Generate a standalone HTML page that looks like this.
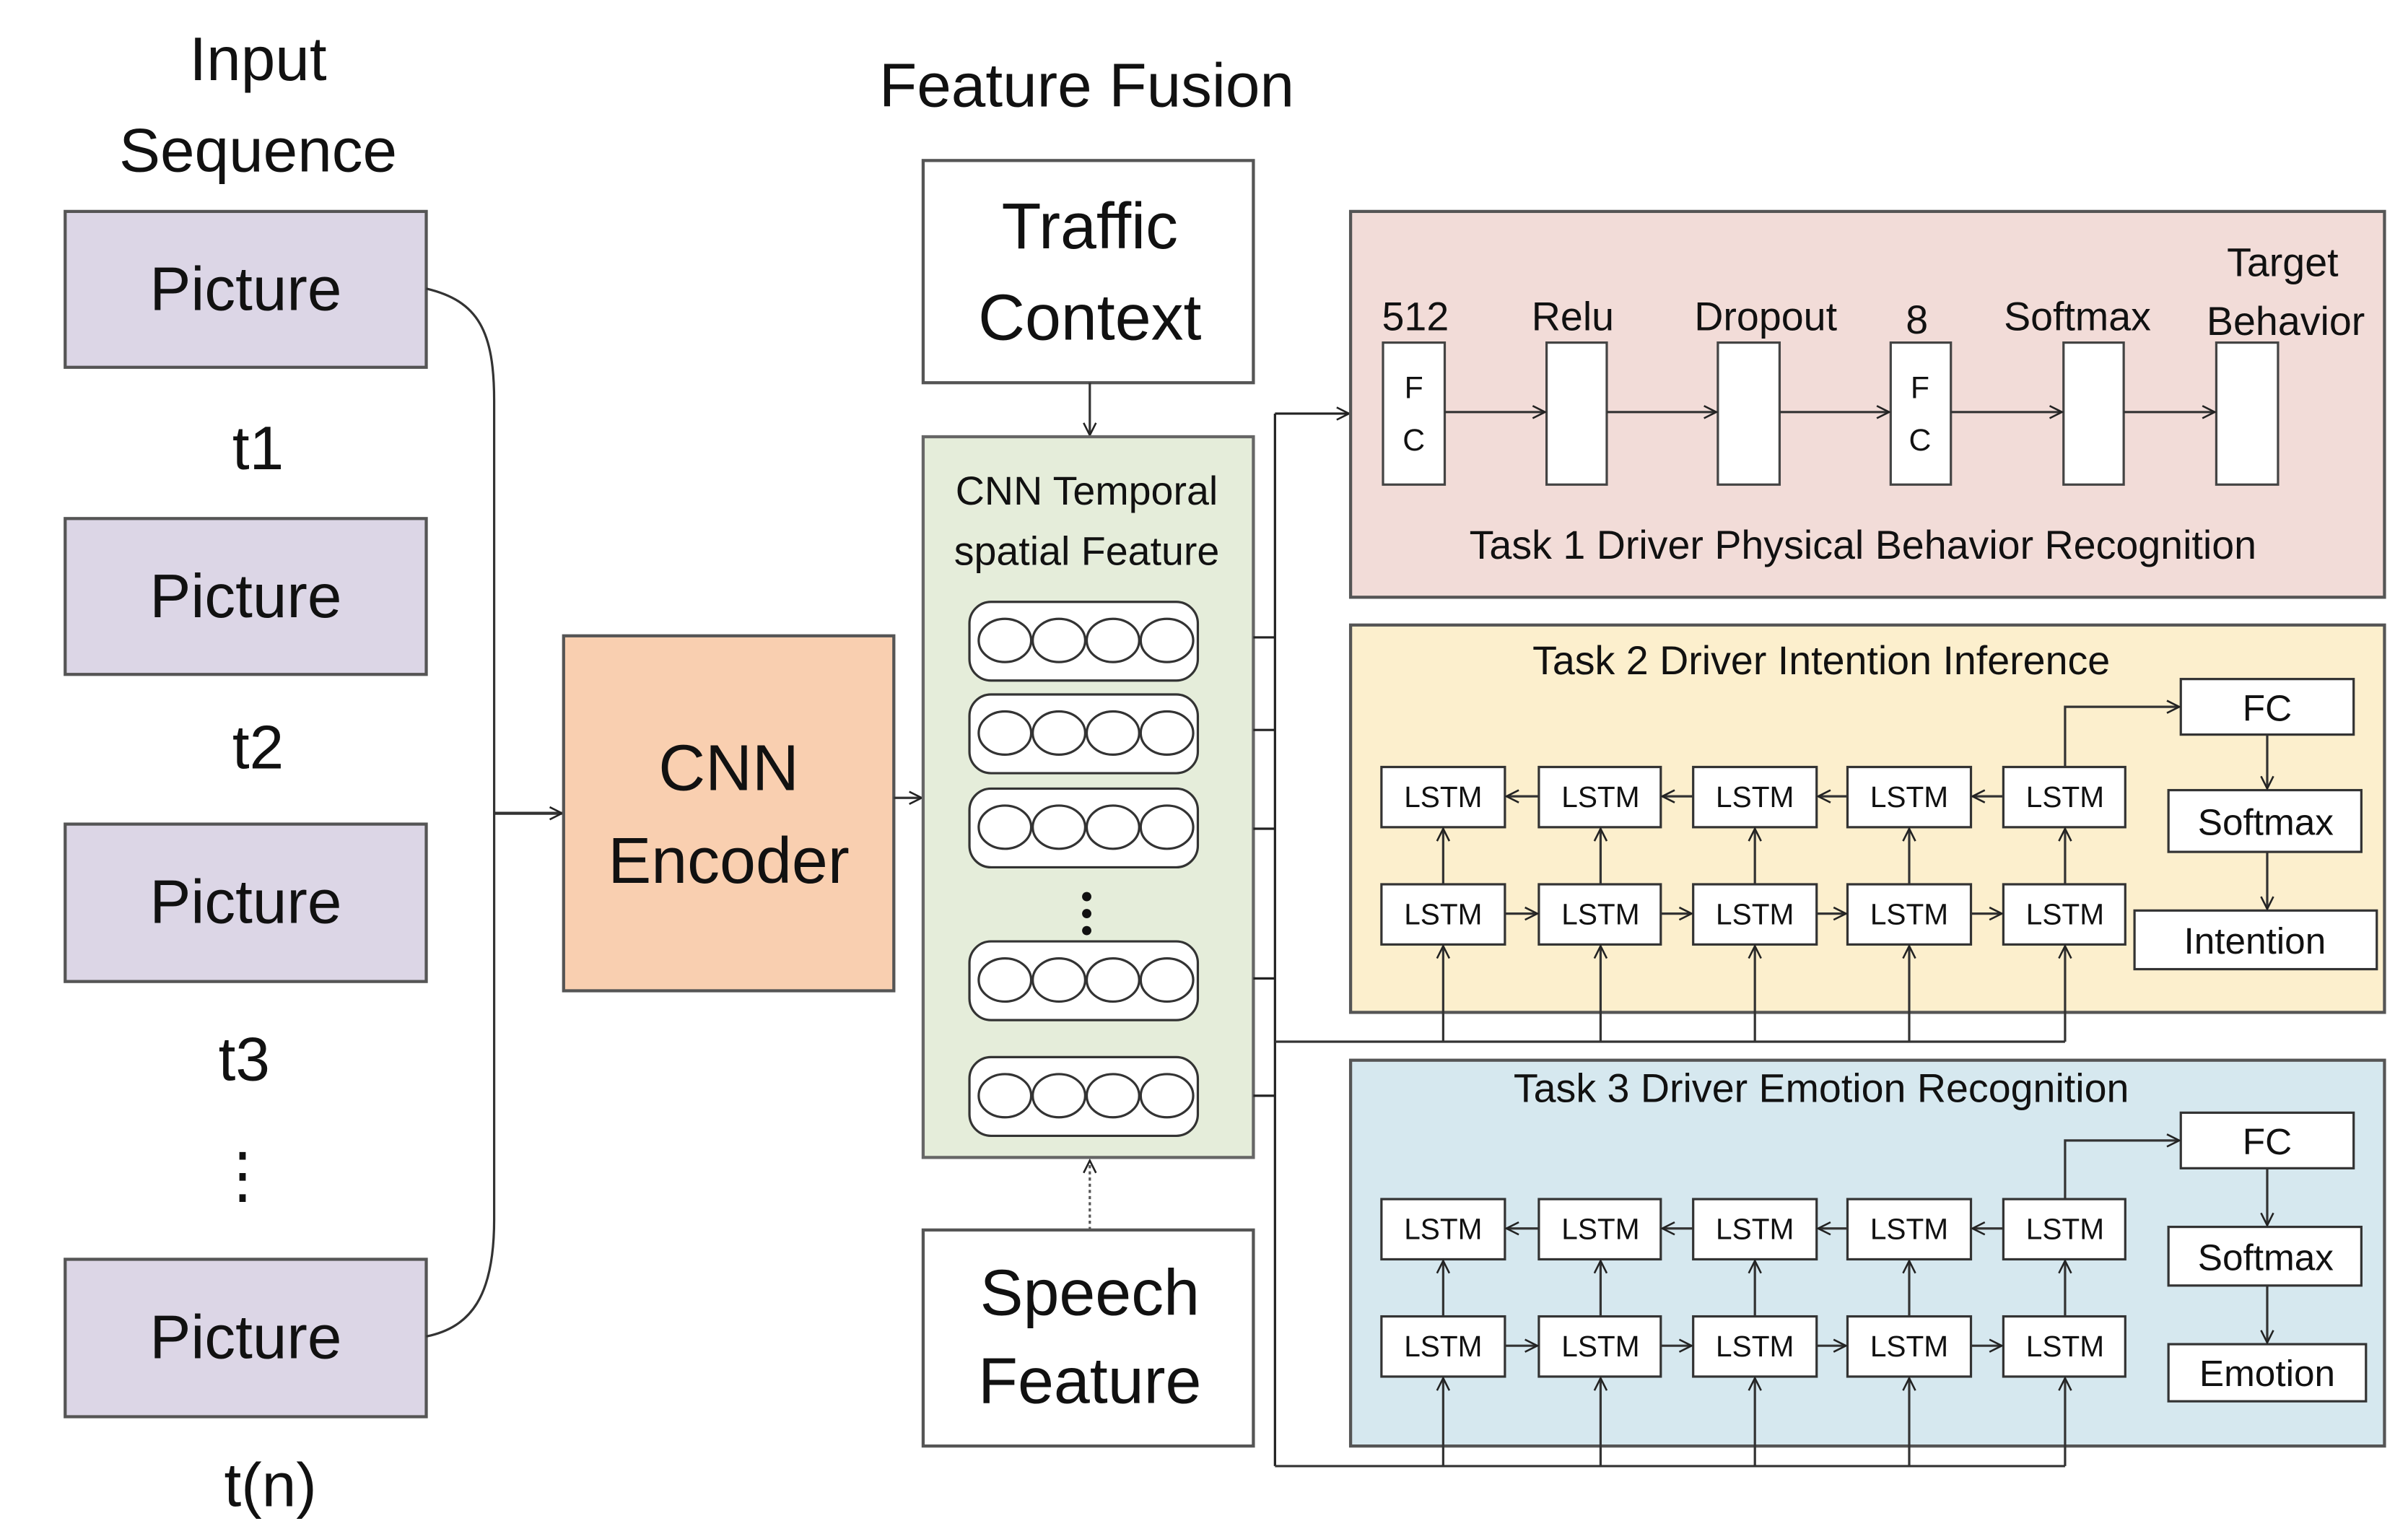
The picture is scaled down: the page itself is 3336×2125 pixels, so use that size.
<!DOCTYPE html>
<html><head><meta charset="utf-8"><style>html,body{margin:0;padding:0;background:#fff}svg{display:block}text{font-family:"Liberation Sans","DejaVu Sans",sans-serif;fill:#111}</style></head><body>
<svg width="3336" height="2125" viewBox="0 0 1560 994" xmlns="http://www.w3.org/2000/svg">
<defs><marker id="a" markerWidth="10" markerHeight="10" refX="9" refY="5" orient="auto" markerUnits="userSpaceOnUse"><path d="M1,1 L9,5 L1,9" fill="none" stroke="#222" stroke-width="1.2"/></marker></defs>
<rect width="1560" height="994" fill="#fff"/>
<g font-size="40" text-anchor="middle">
<text x="167" y="52">Input</text><text x="167" y="111">Sequence</text>
<text x="704" y="69">Feature Fusion</text>
</g>
<g fill="#dcd6e6" stroke="#555" stroke-width="2">
<rect x="42" y="137" width="234" height="101"/><rect x="42" y="336" width="234" height="101"/><rect x="42" y="534" width="234" height="102"/><rect x="42" y="816" width="234" height="102"/>
</g>
<g font-size="40" text-anchor="middle">
<text x="159" y="201">Picture</text><text x="159" y="400">Picture</text><text x="159" y="598">Picture</text><text x="159" y="880">Picture</text>
<text x="167" y="304">t1</text><text x="167" y="498">t2</text><text x="158" y="700">t3</text><text x="157" y="775">⋮</text><text x="175" y="976">t(n)</text>
</g>
<path d="M276,187 C310,195 320,215 320,260 L320,790 C320,840 305,860 276,866" fill="none" stroke="#333" stroke-width="1.5"/>
<line x1="320" y1="527" x2="364" y2="527" stroke="#333" stroke-width="2" marker-end="url(#a)"/>
<rect x="365" y="412" width="214" height="230" fill="#f9cfb0" stroke="#555" stroke-width="2"/>
<g font-size="42" text-anchor="middle"><text x="472" y="512">CNN</text><text x="472" y="572">Encoder</text></g>
<line x1="579" y1="517" x2="597" y2="517" stroke="#333" stroke-width="1.5" marker-end="url(#a)"/>
<rect x="598" y="104" width="214" height="144" fill="#fff" stroke="#555" stroke-width="2"/>
<g font-size="42" text-anchor="middle"><text x="706" y="161">Traffic</text><text x="706" y="220">Context</text></g>
<line x1="706" y1="248" x2="706" y2="282" stroke="#333" stroke-width="1.5" marker-end="url(#a)"/>
<rect x="598" y="283" width="214" height="467" fill="#e5edda" stroke="#666" stroke-width="2"/>
<g font-size="26" text-anchor="middle"><text x="704" y="327">CNN Temporal</text><text x="704" y="366">spatial Feature</text></g>
<g fill="#fff" stroke="#333" stroke-width="1.5">
<rect x="628" y="390" width="148" height="51" rx="14"/><rect x="628" y="450" width="148" height="51" rx="14"/><rect x="628" y="511" width="148" height="51" rx="14"/><rect x="628" y="610" width="148" height="51" rx="14"/><rect x="628" y="685" width="148" height="51" rx="14"/>
</g>
<g fill="none" stroke="#333" stroke-width="1.5">
<ellipse cx="651" cy="415" rx="17" ry="14"/><ellipse cx="686" cy="415" rx="17" ry="14"/><ellipse cx="721" cy="415" rx="17" ry="14"/><ellipse cx="756" cy="415" rx="17" ry="14"/>
<ellipse cx="651" cy="475" rx="17" ry="14"/><ellipse cx="686" cy="475" rx="17" ry="14"/><ellipse cx="721" cy="475" rx="17" ry="14"/><ellipse cx="756" cy="475" rx="17" ry="14"/>
<ellipse cx="651" cy="536" rx="17" ry="14"/><ellipse cx="686" cy="536" rx="17" ry="14"/><ellipse cx="721" cy="536" rx="17" ry="14"/><ellipse cx="756" cy="536" rx="17" ry="14"/>
<ellipse cx="651" cy="635" rx="17" ry="14"/><ellipse cx="686" cy="635" rx="17" ry="14"/><ellipse cx="721" cy="635" rx="17" ry="14"/><ellipse cx="756" cy="635" rx="17" ry="14"/>
<ellipse cx="651" cy="710" rx="17" ry="14"/><ellipse cx="686" cy="710" rx="17" ry="14"/><ellipse cx="721" cy="710" rx="17" ry="14"/><ellipse cx="756" cy="710" rx="17" ry="14"/>
</g>
<g fill="#111"><circle cx="704" cy="581" r="3"/><circle cx="704" cy="592" r="3"/><circle cx="704" cy="603" r="3"/></g>
<line x1="706" y1="797" x2="706" y2="752" stroke="#555" stroke-width="1.5" stroke-dasharray="2,2" marker-end="url(#a)"/>
<rect x="598" y="797" width="214" height="140" fill="#fff" stroke="#555" stroke-width="2"/>
<g font-size="42" text-anchor="middle"><text x="706" y="852">Speech</text><text x="706" y="909">Feature</text></g>
<g stroke="#222" stroke-width="1.5" fill="none">
<line x1="826" y1="268" x2="826" y2="950"/>
<line x1="812" y1="413" x2="826" y2="413"/><line x1="812" y1="473" x2="826" y2="473"/><line x1="812" y1="537" x2="826" y2="537"/><line x1="812" y1="634" x2="826" y2="634"/><line x1="812" y1="710" x2="826" y2="710"/>
<line x1="826" y1="268" x2="874" y2="268" marker-end="url(#a)"/>
</g>
<!-- Task 1 -->
<rect x="875" y="137" width="670" height="250" fill="#f2dcd8" stroke="#555" stroke-width="2"/>
<g fill="#fff" stroke="#444" stroke-width="1.5">
<rect x="896" y="222" width="40" height="92"/><rect x="1002" y="222" width="39" height="92"/><rect x="1113" y="222" width="40" height="92"/><rect x="1225" y="222" width="39" height="92"/><rect x="1337" y="222" width="39" height="92"/><rect x="1436" y="222" width="40" height="92"/>
</g>
<g stroke="#333" stroke-width="1.5">
<line x1="936" y1="267" x2="1001" y2="267" marker-end="url(#a)"/><line x1="1041" y1="267" x2="1112" y2="267" marker-end="url(#a)"/><line x1="1153" y1="267" x2="1224" y2="267" marker-end="url(#a)"/><line x1="1264" y1="267" x2="1336" y2="267" marker-end="url(#a)"/><line x1="1376" y1="267" x2="1435" y2="267" marker-end="url(#a)"/>
</g>
<g font-size="20" text-anchor="middle"><text x="916" y="258">F</text><text x="916" y="292">C</text><text x="1244" y="258">F</text><text x="1244" y="292">C</text></g>
<g font-size="26" text-anchor="middle">
<text x="917" y="214">512</text><text x="1019" y="214">Relu</text><text x="1144" y="214">Dropout</text><text x="1242" y="216">8</text><text x="1346" y="214">Softmax</text><text x="1479" y="179">Target</text><text x="1481" y="217">Behavior</text>
<text x="1207" y="362">Task 1 Driver Physical Behavior Recognition</text>
</g>
<!-- Task 2 -->
<rect x="875" y="405" width="670" height="251" fill="#fcefcd" stroke="#555" stroke-width="2"/>
<text x="1180" y="437" font-size="26" text-anchor="middle">Task 2 Driver Intention Inference</text>
<g fill="#fff" stroke="#333" stroke-width="1.5">
<rect x="895" y="497" width="80" height="39"/><rect x="997" y="497" width="79" height="39"/><rect x="1097" y="497" width="80" height="39"/><rect x="1197" y="497" width="80" height="39"/><rect x="1298" y="497" width="79" height="39"/>
<rect x="895" y="573" width="80" height="39"/><rect x="997" y="573" width="79" height="39"/><rect x="1097" y="573" width="80" height="39"/><rect x="1197" y="573" width="80" height="39"/><rect x="1298" y="573" width="79" height="39"/>
<rect x="1413" y="440" width="112" height="36"/><rect x="1405" y="512" width="125" height="40"/><rect x="1383" y="590" width="157" height="38"/>
</g>
<g stroke="#333" stroke-width="1.5" fill="none">
<line x1="997" y1="516" x2="976" y2="516" marker-end="url(#a)"/><line x1="1097" y1="516" x2="1077" y2="516" marker-end="url(#a)"/><line x1="1197" y1="516" x2="1178" y2="516" marker-end="url(#a)"/><line x1="1298" y1="516" x2="1278" y2="516" marker-end="url(#a)"/>
<line x1="975" y1="592" x2="996" y2="592" marker-end="url(#a)"/><line x1="1076" y1="592" x2="1096" y2="592" marker-end="url(#a)"/><line x1="1177" y1="592" x2="1196" y2="592" marker-end="url(#a)"/><line x1="1277" y1="592" x2="1297" y2="592" marker-end="url(#a)"/>
<line x1="935" y1="573" x2="935" y2="537" marker-end="url(#a)"/><line x1="1037" y1="573" x2="1037" y2="537" marker-end="url(#a)"/><line x1="1137" y1="573" x2="1137" y2="537" marker-end="url(#a)"/><line x1="1237" y1="573" x2="1237" y2="537" marker-end="url(#a)"/><line x1="1338" y1="573" x2="1338" y2="537" marker-end="url(#a)"/>
<line x1="935" y1="675" x2="935" y2="613" marker-end="url(#a)"/><line x1="1037" y1="675" x2="1037" y2="613" marker-end="url(#a)"/><line x1="1137" y1="675" x2="1137" y2="613" marker-end="url(#a)"/><line x1="1237" y1="675" x2="1237" y2="613" marker-end="url(#a)"/><line x1="1338" y1="675" x2="1338" y2="613" marker-end="url(#a)"/>
<line x1="826" y1="675" x2="1338" y2="675"/>
<polyline points="1338,497 1338,458 1412,458" marker-end="url(#a)"/>
<line x1="1469" y1="476" x2="1469" y2="511" marker-end="url(#a)"/><line x1="1469" y1="552" x2="1469" y2="589" marker-end="url(#a)"/>
</g>
<g font-size="19" text-anchor="middle"><text x="935" y="523">LSTM</text><text x="1037" y="523">LSTM</text><text x="1137" y="523">LSTM</text><text x="1237" y="523">LSTM</text><text x="1338" y="523">LSTM</text>
<text x="935" y="599">LSTM</text><text x="1037" y="599">LSTM</text><text x="1137" y="599">LSTM</text><text x="1237" y="599">LSTM</text><text x="1338" y="599">LSTM</text></g>
<g font-size="24" text-anchor="middle"><text x="1469" y="467">FC</text><text x="1468" y="541">Softmax</text><text x="1461" y="618">Intention</text></g>
<!-- Task 3 -->
<rect x="875" y="687" width="670" height="250" fill="#d6e8ef" stroke="#555" stroke-width="2"/>
<text x="1180" y="714" font-size="26" text-anchor="middle">Task 3 Driver Emotion Recognition</text>
<g fill="#fff" stroke="#333" stroke-width="1.5">
<rect x="895" y="777" width="80" height="39"/><rect x="997" y="777" width="79" height="39"/><rect x="1097" y="777" width="80" height="39"/><rect x="1197" y="777" width="80" height="39"/><rect x="1298" y="777" width="79" height="39"/>
<rect x="895" y="853" width="80" height="39"/><rect x="997" y="853" width="79" height="39"/><rect x="1097" y="853" width="80" height="39"/><rect x="1197" y="853" width="80" height="39"/><rect x="1298" y="853" width="79" height="39"/>
<rect x="1413" y="721" width="112" height="36"/><rect x="1405" y="795" width="125" height="38"/><rect x="1405" y="871" width="128" height="37"/>
</g>
<g stroke="#333" stroke-width="1.5" fill="none">
<line x1="997" y1="796" x2="976" y2="796" marker-end="url(#a)"/><line x1="1097" y1="796" x2="1077" y2="796" marker-end="url(#a)"/><line x1="1197" y1="796" x2="1178" y2="796" marker-end="url(#a)"/><line x1="1298" y1="796" x2="1278" y2="796" marker-end="url(#a)"/>
<line x1="975" y1="872" x2="996" y2="872" marker-end="url(#a)"/><line x1="1076" y1="872" x2="1096" y2="872" marker-end="url(#a)"/><line x1="1177" y1="872" x2="1196" y2="872" marker-end="url(#a)"/><line x1="1277" y1="872" x2="1297" y2="872" marker-end="url(#a)"/>
<line x1="935" y1="853" x2="935" y2="817" marker-end="url(#a)"/><line x1="1037" y1="853" x2="1037" y2="817" marker-end="url(#a)"/><line x1="1137" y1="853" x2="1137" y2="817" marker-end="url(#a)"/><line x1="1237" y1="853" x2="1237" y2="817" marker-end="url(#a)"/><line x1="1338" y1="853" x2="1338" y2="817" marker-end="url(#a)"/>
<line x1="935" y1="950" x2="935" y2="893" marker-end="url(#a)"/><line x1="1037" y1="950" x2="1037" y2="893" marker-end="url(#a)"/><line x1="1137" y1="950" x2="1137" y2="893" marker-end="url(#a)"/><line x1="1237" y1="950" x2="1237" y2="893" marker-end="url(#a)"/><line x1="1338" y1="950" x2="1338" y2="893" marker-end="url(#a)"/>
<line x1="826" y1="950" x2="1338" y2="950"/>
<polyline points="1338,777 1338,739 1412,739" marker-end="url(#a)"/>
<line x1="1469" y1="757" x2="1469" y2="794" marker-end="url(#a)"/><line x1="1469" y1="833" x2="1469" y2="870" marker-end="url(#a)"/>
</g>
<g font-size="19" text-anchor="middle"><text x="935" y="803">LSTM</text><text x="1037" y="803">LSTM</text><text x="1137" y="803">LSTM</text><text x="1237" y="803">LSTM</text><text x="1338" y="803">LSTM</text>
<text x="935" y="879">LSTM</text><text x="1037" y="879">LSTM</text><text x="1137" y="879">LSTM</text><text x="1237" y="879">LSTM</text><text x="1338" y="879">LSTM</text></g>
<g font-size="24" text-anchor="middle"><text x="1469" y="748">FC</text><text x="1468" y="823">Softmax</text><text x="1469" y="898">Emotion</text></g>
</svg>
</body></html>
